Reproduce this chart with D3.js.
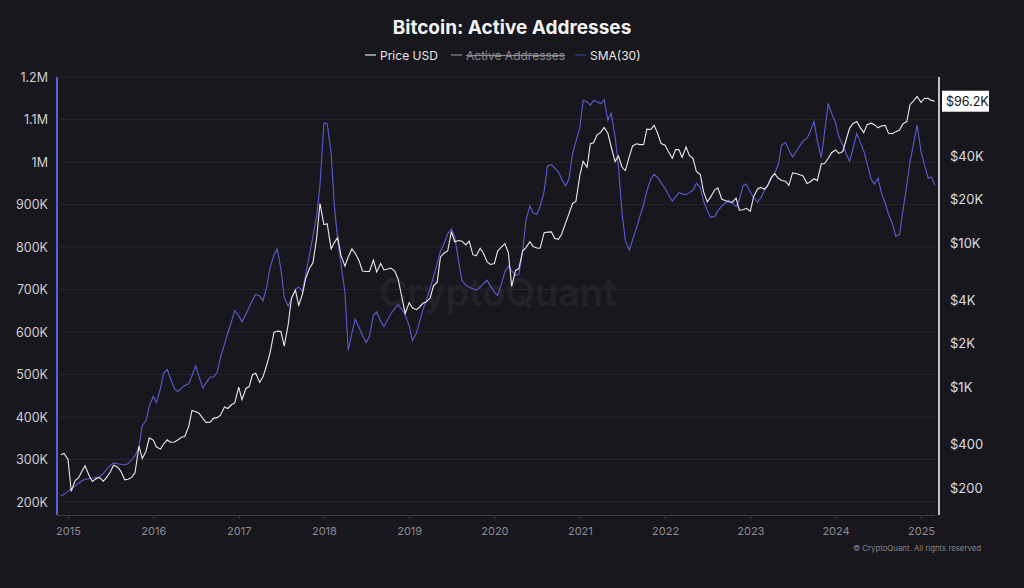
<!DOCTYPE html>
<html>
<head>
<meta charset="utf-8">
<script src="https://cdn.jsdelivr.net/npm/d3@7"></script>
<style>
  html, body { margin: 0; padding: 0; background: #18171d; }
  svg { display: block; font-family: Inter, "Noto Sans", sans-serif; }
</style>
</head>
<body>
<div id="chart"></div>
<script>
// points on the 1st and 15th of every month, Dec 2014 .. Mar 2025
const START_MONTH = "2014-12-01"

// BTC price, USD
const priceUsd = [
  340, 347,
  315, 190, 226, 235, 260, 285, 245, 222, 232, 237, 223, 236, 258, 288, 280, 262, 228, 230, 237, 255, 390, 320, 360, 445,
  430, 385, 372, 405, 432, 415, 417, 430, 450, 455, 535, 690, 675, 660, 605, 570, 572, 608, 615, 640, 730, 712, 755, 778,
  1000, 820, 980, 1010, 1220, 1250, 1080, 1180, 1420, 1720, 2400, 2450, 2430, 1930, 2720, 4150, 4700, 3700, 4400, 5700, 6700, 7300, 10900, 18800,
  13400, 13600, 9100, 10100, 10900, 8200, 6900, 8000, 9100, 8500, 7500, 6400, 6350, 6350, 7600, 6300, 7200, 6500, 6600, 6700, 6350, 5600, 4200, 3250,
  3850, 3550, 3450, 3600, 3820, 3900, 4150, 5050, 5350, 8000, 8550, 8800, 12000, 10200, 10400, 10300, 9700, 10300, 8300, 8150, 9200, 8500, 7400, 7100,
  7200, 8800, 9400, 9900, 8550, 5000, 6450, 6650, 8800, 9300, 10200, 9450, 9230, 9200, 11800, 11900, 11950, 10800, 10600, 11500, 13800, 15900, 18800, 19400,
  29400, 36800, 33500, 48800, 49600, 56000, 58700, 63200, 57800, 46500, 36700, 40200, 33500, 31800, 39900, 47100, 48800, 48100, 48200, 61600, 61300, 65500, 57200, 48900,
  47700, 43100, 38700, 44500, 44400, 39300, 46300, 40500, 38500, 31300, 29800, 22600, 19300, 20800, 23300, 24100, 20100, 19700, 19300, 19100, 20500, 16900, 17000, 17400,
  16600, 20900, 23700, 24300, 23600, 24700, 28500, 30300, 28100, 27100, 26800, 25100, 30600, 30300, 29700, 29200, 25900, 26600, 27900, 27100, 35400, 35600, 38700, 42300,
  44200, 41800, 43100, 51800, 62400, 67200, 69700, 63400, 58300, 66200, 67800, 66200, 62900, 64700, 65400, 57600, 57300, 59200, 60800, 67000, 69500, 91000, 97200, 104000,
  94400, 100500, 100600, 97500, 96200
]

// active addresses, 30 day SMA (thousands)
const activeSma30 = [
  214, 218,
  225, 231, 238, 244, 250, 253, 255, 256, 258, 259, 267, 277, 286, 292, 290, 289, 287, 290, 300, 309, 330, 380, 391, 425,
  448, 434, 468, 504, 512, 490, 466, 460, 468, 474, 478, 497, 520, 495, 468, 481, 494, 494, 505, 540, 571, 597, 624, 650,
  638, 624, 642, 659, 675, 689, 685, 673, 706, 750, 781, 795, 748, 682, 661, 677, 701, 706, 696, 735, 785, 825, 875, 945,
  1092, 1090, 1020, 895, 818, 760, 694, 557, 598, 630, 610, 592, 575, 590, 640, 647, 625, 613, 629, 643, 656, 664, 653, 640,
  615, 580, 597, 625, 652, 674, 702, 730, 761, 790, 810, 831, 842, 825, 765, 721, 710, 705, 702, 699, 705, 714, 722, 708,
  694, 686, 715, 742, 755, 744, 733, 736, 790, 862, 897, 880, 877, 896, 930, 990, 994, 986, 977, 960, 944, 960, 1020, 1048,
  1080, 1145, 1142, 1134, 1145, 1142, 1137, 1147, 1098, 1115, 1060, 990, 878, 815, 793, 817, 845, 872, 900, 932, 960, 971, 963, 951,
  938, 923, 908, 918, 928, 925, 923, 928, 934, 950, 940, 908, 886, 870, 872, 885, 896, 903, 910, 904, 895, 911, 944, 948,
  929, 917, 905, 916, 931, 945, 961, 973, 994, 1040, 1046, 1029, 1012, 1024, 1038, 1049, 1056, 1072, 1096, 1050, 1010, 1070, 1138, 1115,
  1093, 1060, 1040, 1020, 1002, 1030, 1067, 1048, 1026, 997, 960, 948, 962, 928, 903, 877, 855, 825, 830, 883, 945, 1000, 1045, 1087,
  1025, 995, 962, 965, 945
]

const yearTicks = [2015, 2016, 2017, 2018, 2019, 2020, 2021, 2022, 2023, 2024, 2025]
const leftTicks = [200000, 300000, 400000, 500000, 600000, 700000, 800000, 900000, 1000000, 1100000, 1200000]
const leftLabels = ["200K", "300K", "400K", "500K", "600K", "700K", "800K", "900K", "1M", "1.1M", "1.2M"]
const rightTicks = [200, 400, 1000, 2000, 4000, 10000, 20000, 40000]
const rightLabels = ["$200", "$400", "$1K", "$2K", "$4K", "$10K", "$20K", "$40K"]
const legendItems = ["Price USD", "Active Addresses", "SMA(30)"]

const W = 1024, H = 588
const plotTop = 77, plotBottom = 515, plotLeft = 57, plotRight = 939

const start = new Date(START_MONTH + "T00:00:00")
const dates = priceUsd.map((d, i) => d3.timeDay.offset(d3.timeMonth.offset(start, Math.floor(i / 2)), (i % 2) * 14))

const x = d3.scaleTime()
  .domain([new Date(2015, 0, 1), new Date(2025, 0, 1)])
  .range([68, 921])
const yLeft = d3.scaleLinear().domain([200000, 1200000]).range([502, 77])
const yRight = d3.scaleLog().domain([200, 10000]).range([488, 243])

const svg = d3.select("#chart").append("svg")
  .attr("width", W).attr("height", H)

svg.append("rect").attr("width", W).attr("height", H).attr("fill", "#18171d")

// title
svg.append("text")
  .attr("x", 512).attr("y", 34)
  .attr("text-anchor", "middle")
  .attr("fill", "#f2f2f2")
  .style("font-size", "19px").style("font-weight", 700)
  .text("Bitcoin: Active Addresses")

// legend
const legendX = [365, 451, 575]
const legendDash = ["#e6e6e6", "#8c8c92", "#3c3f9a"]
const legendText = ["#e6e6e6", "#8c8c92", "#e6e6e6"]
const lg = svg.append("g")
legendItems.forEach((name, i) => {
  lg.append("line")
    .attr("x1", legendX[i]).attr("x2", legendX[i] + 11)
    .attr("y1", 55).attr("y2", 55)
    .attr("stroke", legendDash[i]).attr("stroke-width", 1.2)
  const t = lg.append("text")
    .attr("x", legendX[i] + 15).attr("y", 59.5)
    .attr("fill", legendText[i])
    .style("font-size", "12px")
    .text(name)
  if (i === 1) t.attr("text-decoration", "line-through")
})

// watermark
svg.append("text")
  .attr("x", 498).attr("y", 306)
  .attr("text-anchor", "middle")
  .attr("fill", "#232229")
  .style("font-size", "38px").style("font-weight", 600)
  .text("CryptoQuant")

// grid
svg.append("g")
  .selectAll("line")
  .data(leftTicks)
  .enter().append("line")
    .attr("x1", plotLeft + 3).attr("x2", plotRight - 3)
    .attr("y1", d => yLeft(d)).attr("y2", d => yLeft(d))
    .attr("stroke", "#25242b").attr("stroke-width", 1)

// x axis
const xAxis = d3.axisBottom(x)
  .tickValues(yearTicks.map(y => new Date(y, 0, 1)))
  .tickFormat(d3.timeFormat("%Y"))
  .tickSize(4).tickPadding(8)
const gx = svg.append("g").attr("transform", `translate(0,${plotBottom})`).call(xAxis)
gx.select(".domain").attr("d", `M${plotLeft},0.5H${plotRight - 4}`).attr("stroke", "#3d3c44")
gx.selectAll(".tick line").attr("stroke", "#3d3c44")
gx.selectAll(".tick text").attr("fill", "#8d8c94").style("font-size", "11px").style("font-family", "Inter, sans-serif")

// left axis
const yAxisL = d3.axisLeft(yLeft)
  .tickValues(leftTicks)
  .tickFormat((d, i) => leftLabels[i])
  .tickSize(0).tickPadding(9)
const gl = svg.append("g").attr("transform", `translate(${plotLeft},0)`).call(yAxisL)
gl.select(".domain").remove()
gl.selectAll(".tick text").attr("fill", "#cfcfd4").style("font-size", "12.5px").style("font-family", "Inter, sans-serif")
svg.append("line")
  .attr("x1", plotLeft).attr("x2", plotLeft)
  .attr("y1", plotTop).attr("y2", plotBottom)
  .attr("stroke", "#5b5ed6").attr("stroke-width", 2)

// right axis
const yAxisR = d3.axisRight(yRight)
  .tickValues(rightTicks)
  .tickFormat((d, i) => rightLabels[i])
  .tickSize(0).tickPadding(11)
const gr = svg.append("g").attr("transform", `translate(${plotRight},0)`).call(yAxisR)
gr.select(".domain").remove()
gr.selectAll(".tick text").attr("fill", "#dcdce0").style("font-size", "13px").style("font-family", "Inter, sans-serif")
svg.append("line")
  .attr("x1", plotRight).attr("x2", plotRight)
  .attr("y1", plotTop).attr("y2", plotBottom)
  .attr("stroke", "#d6d6da").attr("stroke-width", 1.8)

// series
const smaLine = d3.line()
  .x((d, i) => x(dates[i]))
  .y(d => yLeft(d * 1000))
svg.append("path")
  .datum(activeSma30)
  .attr("d", smaLine)
  .attr("fill", "none")
  .attr("stroke", "#5a5dd2").attr("stroke-width", 1.1)

const priceLine = d3.line()
  .x((d, i) => x(dates[i]))
  .y(d => yRight(d))
svg.append("path")
  .datum(priceUsd)
  .attr("d", priceLine)
  .attr("fill", "none")
  .attr("stroke", "#ebebeb").attr("stroke-width", 1.1)

// last price label
const last = priceUsd[priceUsd.length - 1]
const ly = yRight(last)
svg.append("rect")
  .attr("x", plotRight + 3).attr("y", ly - 10.5)
  .attr("width", 47).attr("height", 21)
  .attr("fill", "#ffffff")
svg.append("text")
  .attr("x", plotRight + 7).attr("y", ly + 4.5)
  .attr("fill", "#111")
  .style("font-size", "12.5px")
  .text("$" + (last / 1000).toFixed(1) + "K")

// footer
svg.append("text")
  .attr("x", 981).attr("y", 551)
  .attr("text-anchor", "end")
  .attr("fill", "#85848c")
  .style("font-size", "7.8px")
  .text("© CryptoQuant. All rights reserved")
</script>
</body>
</html>
